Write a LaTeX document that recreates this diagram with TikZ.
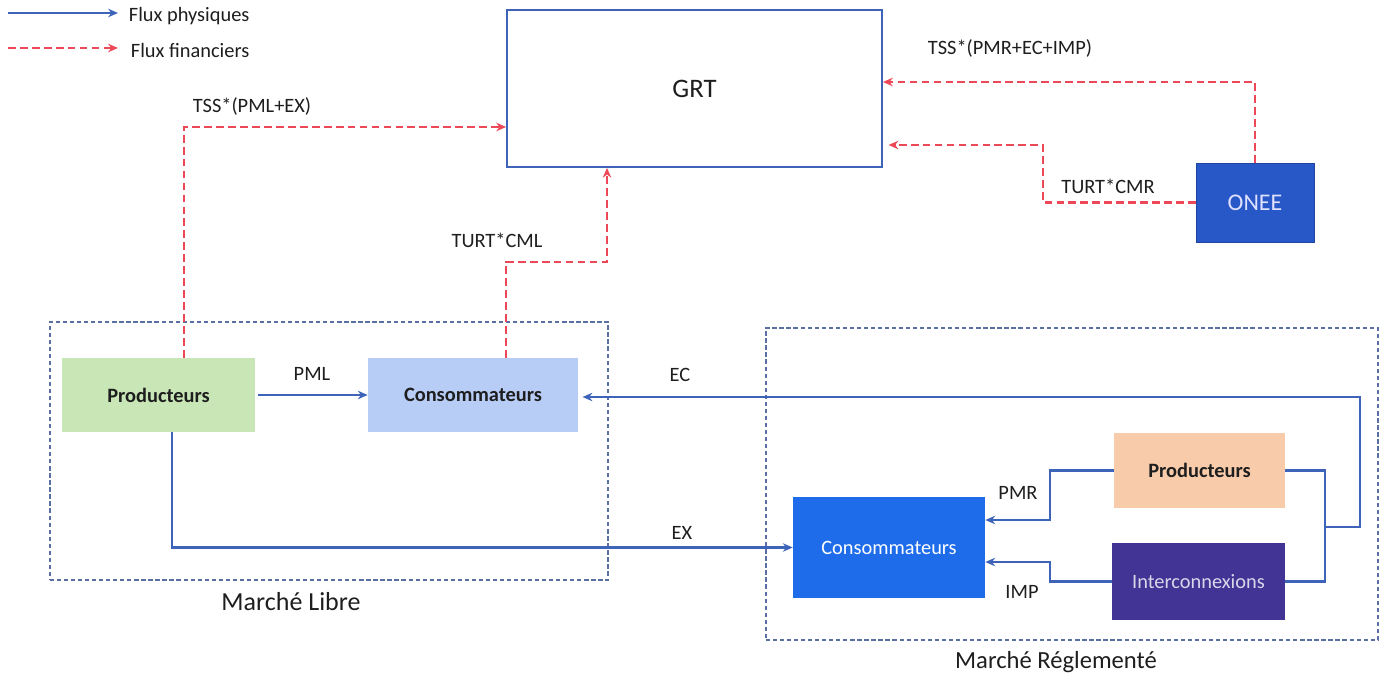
\documentclass[tikz,border=0pt]{standalone}
\usepackage{fontspec}
\setmainfont{Carlito}
\usepackage{tikz}
\usetikzlibrary{arrows.meta}

\definecolor{physblue}{RGB}{62,100,185}
\definecolor{finred}{RGB}{236,72,88}
\definecolor{framegray}{RGB}{90,112,165}
\definecolor{lightgreen}{RGB}{200,230,182}
\definecolor{lightblue}{RGB}{184,205,246}
\definecolor{peach}{RGB}{248,203,170}
\definecolor{purple}{RGB}{66,52,148}
\definecolor{brightblue}{RGB}{30,108,234}
\definecolor{oneeblue}{RGB}{40,88,200}
\definecolor{txtgray}{RGB}{30,30,30}

\begin{document}
\begin{tikzpicture}[x=0.025cm,y=-0.025cm,
  lbl/.style={text=txtgray,font=\fontsize{14.5}{17}\selectfont},
  box/.style={inner sep=0pt,font=\fontsize{14.5}{17}\selectfont},
  market/.style={draw=framegray,line width=1.3pt,dash pattern=on 3pt off 2pt,inner sep=0pt},
  phys/.style={draw=physblue,line width=2.1pt,-{Stealth[length=7pt,width=6pt]}},
  physline/.style={draw=physblue,line width=2.1pt},
  fin/.style={draw=finred,line width=2.1pt,dash pattern=on 5.5pt off 3pt,-{Stealth[length=7pt,width=6pt]}}]
\useasboundingbox (0,0) rectangle (1386,681);

% legende
\coordinate (legA1) at (8,13);
\coordinate (legA2) at (118,13);
\coordinate (legB1) at (8,48);
\coordinate (legB2) at (118,48);
\draw[phys] (legA1) -- (legA2);
\draw[fin] (legB1) -- (legB2);
\node[lbl,anchor=west] (legA) at (124,16) {Flux physiques};
\node[lbl,anchor=west] (legB) at (126,51) {Flux financiers};

% marches
\node[market,minimum width=13.95cm,minimum height=6.45cm] (libre) at (329,451) {};
\node[market,minimum width=15.3cm,minimum height=7.8cm] (regle) at (1072,484) {};
\node[text=txtgray,font=\fontsize{18.5}{22}\selectfont] (libreLbl) at (291,602) {Marché Libre};
\node[text=txtgray,font=\fontsize{17.5}{21}\selectfont] (regleLbl) at (1056,662) {Marché Réglementé};

% acteurs
\node[draw=physblue,line width=1.2pt,minimum width=9.375cm,minimum height=3.925cm,
  font=\fontsize{19}{22}\selectfont,text=txtgray] (grt) at (694.5,88.5) {GRT};
\node[box,fill=oneeblue,draw=oneeblue!80!black,minimum width=2.95cm,minimum height=1.975cm,
  text=white!88!blue,font=\fontsize{17}{20}\selectfont] (onee) at (1255,202.5) {ONEE};
\node[box,fill=lightgreen,minimum width=4.825cm,minimum height=1.85cm,font=\fontsize{14.5}{17}\bfseries,text=txtgray] (prodL) at (158.5,395) {Producteurs};
\node[box,fill=lightblue,minimum width=5.25cm,minimum height=1.85cm,font=\fontsize{14.5}{17}\bfseries,text=txtgray] (consL) at (473,395) {Consommateurs};
\node[box,fill=peach,minimum width=4.275cm,minimum height=1.875cm,font=\fontsize{14.5}{17}\bfseries,text=txtgray] (prodR) at (1199.5,470.5) {Producteurs};
\node[box,fill=purple,minimum width=4.325cm,minimum height=1.925cm,text=white!80!purple] (inter) at (1198.5,581.5) {Interconnexions};
\node[box,fill=brightblue,minimum width=4.8cm,minimum height=2.525cm,text=white] (consR) at (889,547.5) {Consommateurs};

% flux financiers
\draw[fin] (prodL.north -| 184,0) |- (grt.west |- 0,127);
\draw[fin] (consL.north -| 506,0) |- (607,262) -- (grt.south -| 607,0);
\draw[fin] (onee.north) |- (grt.east |- 0,82);
\draw[fin] (onee.west) -| (1043,145) -- ([xshift=4pt]grt.east |- 0,145);
\node[lbl] (tssL) at (252,106) {TSS*(PML+EX)};
\node[lbl] (turtL) at (497,240) {TURT*CML};
\node[lbl] (tssR) at (1010,48) {TSS*(PMR+EC+IMP)};
\node[lbl] (turtR) at (1108,186) {TURT*CMR};

% flux physiques
\coordinate (jR) at (1325,527);
\coordinate (jEC) at (1360,527);
\draw[phys] ([xshift=2pt]prodL.east) -- (consL.west);
\draw[phys] (prodL.south -| 172,0) |- (consR.west);
\draw[physline] (prodR.east) -| (jR) |- (inter.east);
\draw[phys] (jR) -- (jEC) |- ([xshift=3pt]consL.east |- 0,397);
\draw[phys] (prodR.west) -| (1050,520) -- (consR.east |- 0,520);
\draw[phys] (inter.west) -| (1050,562) -- (consR.east |- 0,562);
\node[lbl] (pml) at (312,374) {PML};
\node[lbl] (ec) at (680,375) {EC};
\node[lbl] (ex) at (682,533) {EX};
\node[lbl] (pmr) at (1018,493) {PMR};
\node[lbl] (imp) at (1022,592) {IMP};
\end{tikzpicture}
\end{document}
